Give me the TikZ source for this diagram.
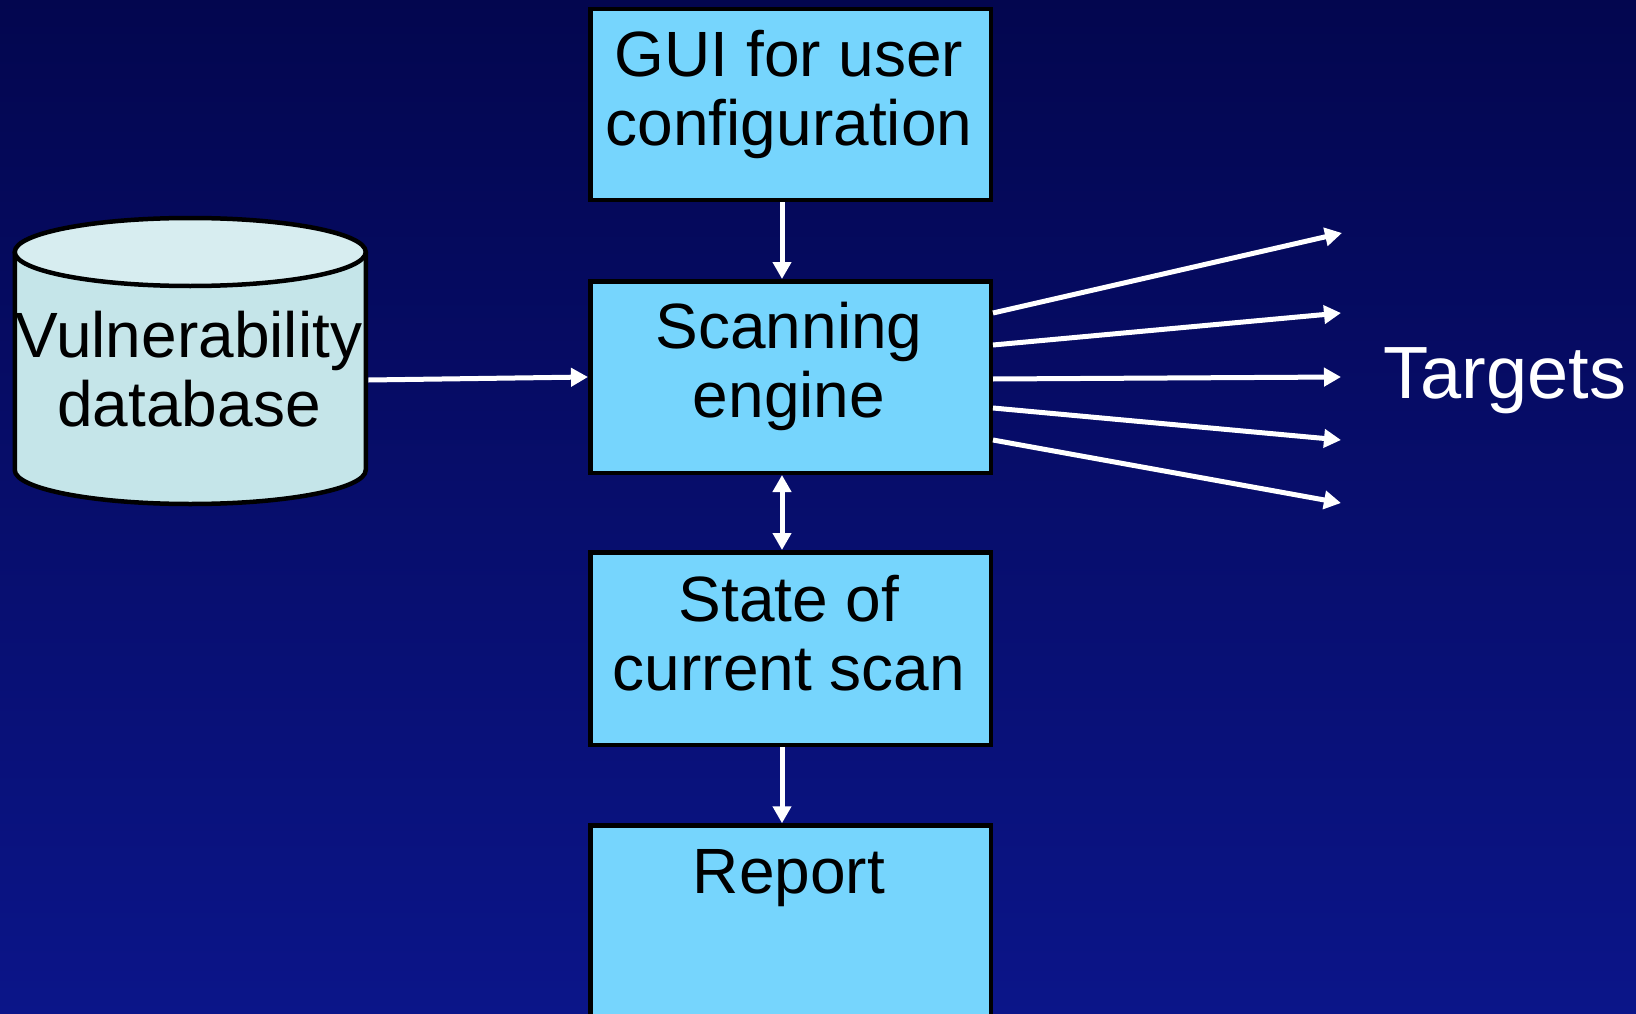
\documentclass[tikz,border=0pt]{standalone}
\usepackage{fontspec}
\setmainfont{Liberation Sans}
\usetikzlibrary{arrows.meta}
\definecolor{bgtop}{HTML}{03064F}
\definecolor{bgbot}{HTML}{0B1589}
\definecolor{boxfill}{HTML}{76D5FD}
\definecolor{dbbody}{HTML}{C5E5E9}
\definecolor{dbtop}{HTML}{D7EDF0}
\begin{document}
\begin{tikzpicture}[x=1pt,y=-1pt,
  box/.style={draw=black, line width=4.5pt, fill=boxfill, minimum width=400.5pt, inner sep=0pt},
  lbl/.style={inner sep=0pt, align=center, font=\fontsize{64}{69.5}\selectfont},
  tip/.tip={Triangle[width=18pt,length=17pt]},
  conn/.style={draw=white, line width=5pt, -tip},
  dconn/.style={draw=white, line width=5pt, tip-tip},
  dbline/.style={draw=black, line width=4.5pt},
]
\useasboundingbox (0,0) rectangle (1636,1014);
\clip (0,0) rectangle (1636,1014);
\shade[top color=bgtop, bottom color=bgbot] (0,0) rectangle (1636,1014);

% database cylinder
\fill[dbbody] (14.75,252) -- (14.75,470) arc[start angle=180,end angle=360,x radius=175.5pt,y radius=34pt] -- (365.75,252) -- cycle;
\draw[dbline] (14.75,252) -- (14.75,470) arc[start angle=180,end angle=360,x radius=175.5pt,y radius=34pt] -- (365.75,252);
\draw[dbline, fill=dbtop] (190.25,252) ellipse[x radius=175.5pt, y radius=34pt];
\node[inner sep=0pt, minimum width=356pt, minimum height=290pt] (db) at (190.25,361) {};
\node[lbl, anchor=north] (dbt) at (189,308.35) {\strut Vulnerability\\database};

% boxes
\node[box, minimum height=190.5pt] (gui) at (790.5,104.5) {};
\node[box, minimum height=191.5pt] (scan) at (790.5,377) {};
\node[box, minimum height=192.5pt] (state) at (790.5,648.5) {};
\node[box, minimum height=250pt] (report) at (790.5,950.5) {};

\node[lbl, anchor=north] (guit) at (789,27.35) {\strut GUI for user\\configuration};
\node[lbl, anchor=north] (scant) at (789,299.35) {\strut Scanning\\engine};
\node[lbl, anchor=north] (statet) at (789,572.35) {\strut State of\\current scan};
\node[lbl, anchor=base] (reportt) at (789,893) {Report};

\node[inner sep=0pt, anchor=base, text=white, font=\fontsize{74}{80}\selectfont] (targets) at (1505,398) {Targets};

% connectors
\draw[conn] ([xshift=-8.5pt]gui.south) -- ([xshift=-8.5pt]scan.north);
\draw[dconn] ([xshift=-8.5pt]scan.south) -- ([xshift=-8.5pt]state.north);
\draw[conn] ([xshift=-8.5pt]state.south) -- ([xshift=-8.5pt]report.north);
\draw[conn] ([yshift=-19pt]db.east) -- (scan.west);

\coordinate (t1) at (1342,233);
\coordinate (t2) at (1341,313);
\coordinate (t3) at (1341,377);
\coordinate (t4) at (1341,440);
\coordinate (t5) at (1341,503);
\draw[conn] ([yshift=64pt]scan.east) -- (t1);
\draw[conn] ([yshift=32pt]scan.east) -- (t2);
\draw[conn] ([yshift=-2pt]scan.east) -- (t3);
\draw[conn] ([yshift=-31pt]scan.east) -- (t4);
\draw[conn] ([yshift=-63pt]scan.east) -- (t5);
\end{tikzpicture}
\end{document}
